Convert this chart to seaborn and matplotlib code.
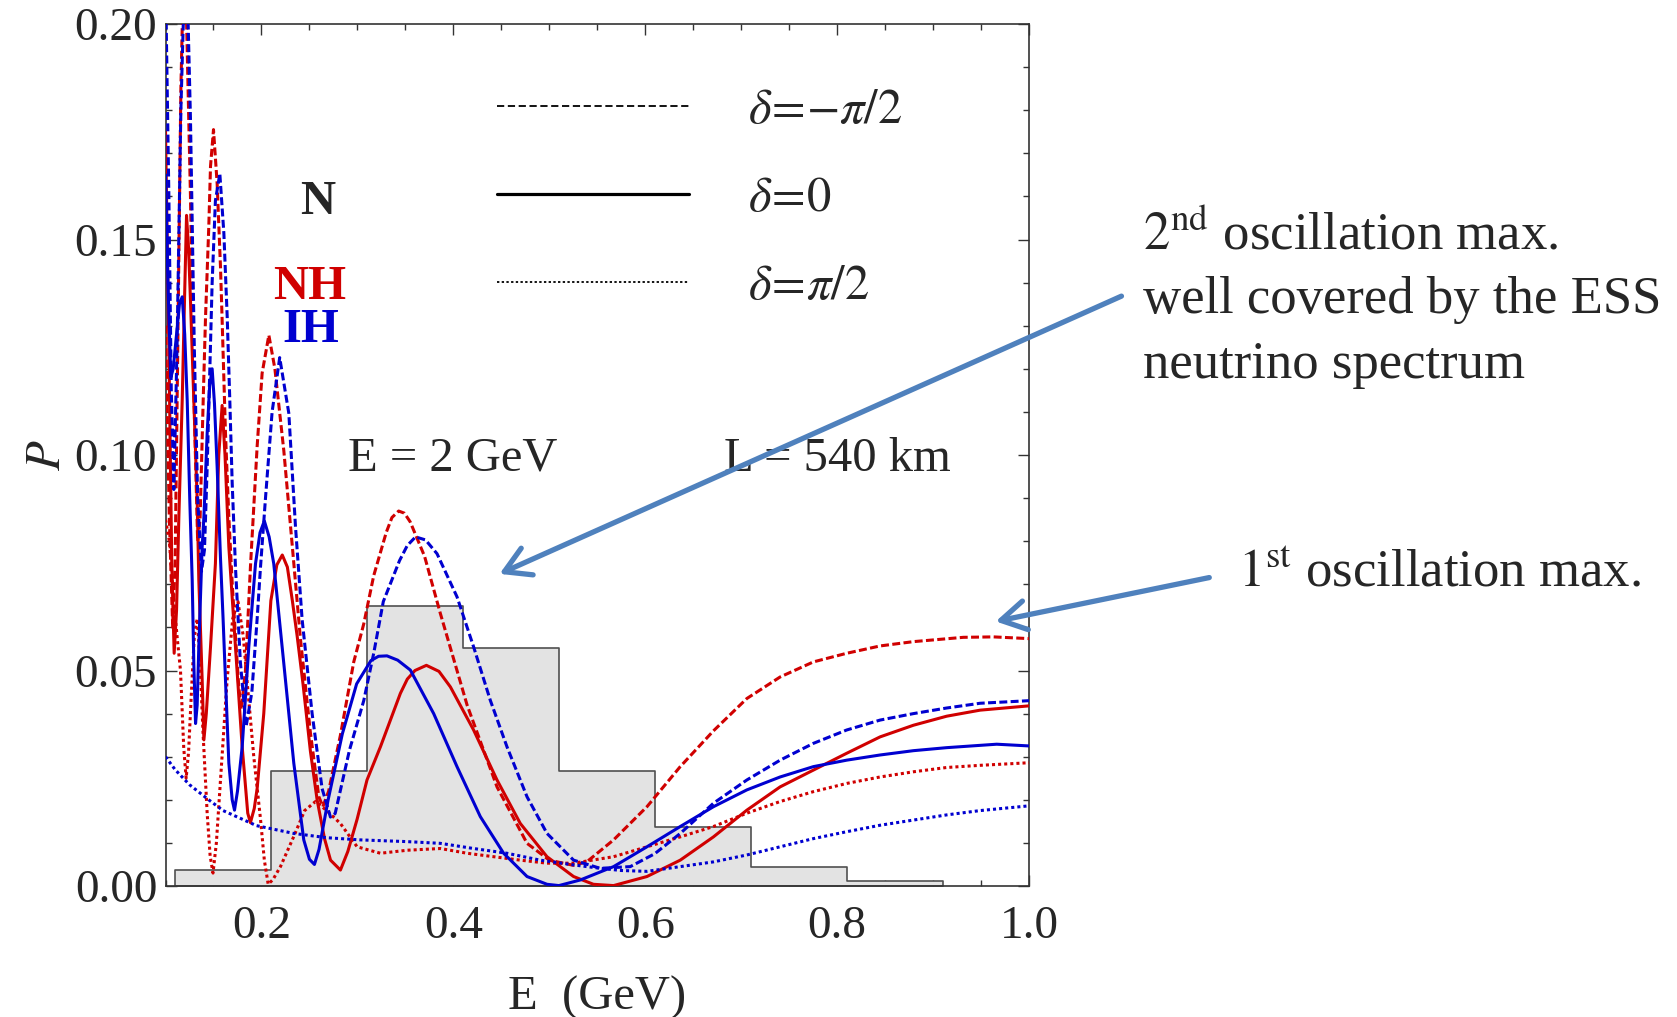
import numpy as np
import pandas as pd
import matplotlib
matplotlib.use("Agg")
import matplotlib.pyplot as plt
from matplotlib.lines import Line2D
from matplotlib.ticker import MultipleLocator, FormatStrFormatter
import seaborn as sns

# ---- values ----
# ESS neutrino spectrum (drawn on the P scale)
hist_edges = [0.11, 0.21, 0.31, 0.41, 0.51, 0.61, 0.71, 0.81, 0.91]
hist_heights = [0.0036, 0.0266, 0.0650, 0.0552, 0.0267, 0.0136, 0.0043, 0.0012]

# NH, delta = 0 (red solid)
nh_0_E = [0.100, 0.1035, 0.1065, 0.109, 0.1115, 0.1139, 0.1174, 0.1198, 0.1219, 0.124,
          0.126, 0.1295, 0.133, 0.1347, 0.1382, 0.140, 0.1425, 0.1469, 0.152, 0.1555,
          0.159, 0.162, 0.166, 0.1729, 0.1799, 0.1857, 0.1885, 0.1925, 0.1955, 0.2024,
          0.2098, 0.216, 0.2217, 0.227, 0.2322, 0.2372, 0.2433, 0.251, 0.2580, 0.2657,
          0.2720, 0.2823, 0.290, 0.2997, 0.310, 0.324, 0.3448, 0.352, 0.360, 0.3719,
          0.385, 0.3969, 0.4211, 0.4455, 0.4698, 0.4976, 0.5253, 0.546, 0.567, 0.6018,
          0.6365, 0.6711, 0.7059, 0.7406, 0.7753, 0.810, 0.8448, 0.8795, 0.9142, 0.949,
          1.0]
nh_0_P = [0.175, 0.125, 0.075, 0.054, 0.064, 0.0856, 0.1127, 0.136, 0.1556, 0.148,
          0.1359, 0.1127, 0.0895, 0.071, 0.0478, 0.0339, 0.040, 0.0555, 0.0748, 0.100,
          0.1115, 0.100, 0.0787, 0.0555, 0.0323, 0.0169, 0.0147, 0.018, 0.0226, 0.040,
          0.0662, 0.0745, 0.0768, 0.0740, 0.0662, 0.0580, 0.0469, 0.0313, 0.0200, 0.0110,
          0.0060, 0.0037, 0.0080, 0.0155, 0.0246, 0.0323, 0.0447, 0.0480, 0.0500, 0.0512,
          0.0498, 0.0462, 0.0362, 0.0246, 0.0145, 0.0068, 0.0022, 0.0004, 0.0001, 0.0022,
          0.0060, 0.0114, 0.0176, 0.0230, 0.0269, 0.0308, 0.0346, 0.0373, 0.0394, 0.0408,
          0.0418]

# IH, delta = 0 (blue solid)
ih_0_E = [0.100, 0.1025, 0.1055, 0.108, 0.1115, 0.1145, 0.1174, 0.120, 0.1226, 0.1253,
          0.1278, 0.1295, 0.1313, 0.133, 0.1347, 0.1382, 0.140, 0.1434, 0.146, 0.1486,
          0.151, 0.1538, 0.1573, 0.1600, 0.1625, 0.166, 0.1695, 0.1719, 0.175, 0.1799,
          0.1868, 0.1938, 0.1985, 0.2030, 0.208, 0.2128, 0.2233, 0.2337, 0.2441, 0.250,
          0.2552, 0.260, 0.2694, 0.2843, 0.2992, 0.3141, 0.3220, 0.3308, 0.3420, 0.3552,
          0.3795, 0.4038, 0.4281, 0.4524, 0.4768, 0.4976, 0.510, 0.5323, 0.567, 0.6018,
          0.6365, 0.6711, 0.7059, 0.7406, 0.7753, 0.810, 0.8448, 0.8795, 0.9142, 0.9663,
          1.0]
ih_0_P = [0.165, 0.140, 0.118, 0.120, 0.128, 0.135, 0.1367, 0.128, 0.1127, 0.0895,
          0.071, 0.0516, 0.0377, 0.042, 0.0555, 0.0787, 0.0856, 0.105, 0.116, 0.120,
          0.112, 0.0973, 0.076, 0.062, 0.0478, 0.0285, 0.020, 0.0176, 0.022, 0.0323,
          0.0555, 0.0748, 0.082, 0.0847, 0.081, 0.0748, 0.0516, 0.0285, 0.0107, 0.0062,
          0.0050, 0.0085, 0.0199, 0.0353, 0.0469, 0.0523, 0.0533, 0.0534, 0.0524, 0.0501,
          0.0400, 0.0277, 0.0161, 0.0076, 0.0022, 0.0004, 0.0001, 0.0014, 0.0045, 0.0091,
          0.0138, 0.0184, 0.0223, 0.0253, 0.0277, 0.0292, 0.0304, 0.0314, 0.0321, 0.0329,
          0.0325]

# NH, delta = -pi/2 (red dashed)
nh_m_E = [0.100, 0.104, 0.1075, 0.110, 0.1125, 0.116, 0.119, 0.122, 0.126, 0.130,
          0.1335, 0.136, 0.1393, 0.1417, 0.1451, 0.1469, 0.150, 0.1538, 0.1573, 0.159,
          0.1625, 0.166, 0.1695, 0.1729, 0.1764, 0.179, 0.1833, 0.1885, 0.1955, 0.2007,
          0.2077, 0.214, 0.2233, 0.232, 0.2406, 0.251, 0.2597, 0.2640, 0.270, 0.2823,
          0.2962, 0.3066, 0.317, 0.330, 0.336, 0.343, 0.349, 0.355, 0.370, 0.3865,
          0.4143, 0.4455, 0.4768, 0.500, 0.525, 0.539, 0.567, 0.6018, 0.6365, 0.6711,
          0.7059, 0.7406, 0.7753, 0.810, 0.8448, 0.8795, 0.9316, 0.963, 1.0]
nh_m_P = [0.130, 0.085, 0.060, 0.075, 0.120, 0.185, 0.215, 0.200, 0.160, 0.110,
          0.080, 0.085, 0.113, 0.132, 0.153, 0.167, 0.1755, 0.163, 0.1436, 0.1314,
          0.105, 0.0856, 0.0702, 0.058, 0.046, 0.041, 0.050, 0.074, 0.102, 0.119,
          0.1278, 0.120, 0.101, 0.0792, 0.0574, 0.0356, 0.0208, 0.0184, 0.022, 0.035,
          0.052, 0.0608, 0.072, 0.082, 0.0855, 0.0870, 0.0865, 0.0845, 0.0765, 0.0632,
          0.042, 0.023, 0.0099, 0.0060, 0.0048, 0.0056, 0.0107, 0.0184, 0.0277, 0.0360,
          0.0435, 0.0485, 0.0520, 0.0540, 0.0557, 0.0567, 0.0577, 0.0578, 0.0574]

# IH, delta = -pi/2 (blue dashed)
ih_m_E = [0.100, 0.1035, 0.106, 0.1087, 0.112, 0.116, 0.1195, 0.1225, 0.126, 0.130,
          0.1335, 0.1375, 0.1406, 0.1434, 0.1462, 0.1486, 0.152, 0.1566, 0.1608, 0.1643,
          0.167, 0.1695, 0.1729, 0.178, 0.184, 0.190, 0.1955, 0.199, 0.2042, 0.2111,
          0.219, 0.2285, 0.2354, 0.2424, 0.2528, 0.2632, 0.2719, 0.2768, 0.2917, 0.3066,
          0.317, 0.327, 0.3439, 0.352, 0.3606, 0.371, 0.383, 0.4038, 0.4211, 0.4385,
          0.4559, 0.4768, 0.4976, 0.5253, 0.5531, 0.5844, 0.610, 0.6365, 0.6711, 0.7059,
          0.7406, 0.7753, 0.810, 0.8448, 0.8795, 0.9142, 0.949, 1.0]
ih_m_P = [0.210, 0.160, 0.115, 0.092, 0.125, 0.180, 0.208, 0.210, 0.178, 0.125,
          0.090, 0.073, 0.078, 0.097, 0.120, 0.140, 0.159, 0.1653, 0.1515, 0.132,
          0.1127, 0.0934, 0.074, 0.052, 0.037, 0.045, 0.062, 0.074, 0.090, 0.110,
          0.1226, 0.1097, 0.0836, 0.0618, 0.040, 0.0226, 0.0160, 0.0168, 0.0315, 0.043,
          0.054, 0.066, 0.0755, 0.0790, 0.0810, 0.0803, 0.0771, 0.0671, 0.0555, 0.0431,
          0.0323, 0.0207, 0.0122, 0.0060, 0.0041, 0.0045, 0.0075, 0.0122, 0.0192, 0.0246,
          0.0292, 0.0331, 0.0362, 0.0385, 0.0400, 0.0413, 0.0424, 0.0430]

# NH, delta = +pi/2 (red dotted)
nh_p_E = [0.100, 0.104, 0.108, 0.112, 0.1156, 0.119, 0.1215, 0.124, 0.127, 0.130,
          0.133, 0.136, 0.139, 0.1434, 0.1465, 0.1495, 0.153, 0.1573, 0.1642, 0.170,
          0.1755, 0.181, 0.186, 0.192, 0.199, 0.203, 0.207, 0.212, 0.2198, 0.2337,
          0.245, 0.2563, 0.268, 0.2823, 0.2997, 0.324, 0.3518, 0.3865, 0.4143, 0.442,
          0.4698, 0.4976, 0.5253, 0.567, 0.6018, 0.6365, 0.6711, 0.7059, 0.7406, 0.7753,
          0.810, 0.8448, 0.8795, 0.9142, 0.949, 1.0]
nh_p_P = [0.085, 0.080, 0.068, 0.058, 0.050, 0.032, 0.025, 0.031, 0.045, 0.058,
          0.062, 0.052, 0.036, 0.0169, 0.007, 0.003, 0.010, 0.0246, 0.0478, 0.062,
          0.066, 0.058, 0.045, 0.030, 0.0155, 0.006, 0.0004, 0.0015, 0.0045, 0.0115,
          0.0175, 0.0196, 0.0175, 0.0145, 0.0091, 0.0076, 0.0083, 0.0087, 0.0076, 0.0068,
          0.0060, 0.0053, 0.0053, 0.0068, 0.0091, 0.0114, 0.0138, 0.0169, 0.0196, 0.0219,
          0.0238, 0.0253, 0.0265, 0.0275, 0.0280, 0.0286]

# IH, delta = +pi/2 (blue dotted)
ih_p_E = [0.100, 0.110, 0.125, 0.145, 0.160, 0.180, 0.1949, 0.2337, 0.2684, 0.3031,
          0.3518, 0.3865, 0.4211, 0.4559, 0.4906, 0.5253, 0.5531, 0.575, 0.6018, 0.6365,
          0.6711, 0.7059, 0.7406, 0.7753, 0.810, 0.8448, 0.8795, 0.9142, 0.949, 1.0]
ih_p_P = [0.0300, 0.0270, 0.0235, 0.0200, 0.0175, 0.0155, 0.0140, 0.0122, 0.0112, 0.0107,
          0.0103, 0.0099, 0.0087, 0.0076, 0.0060, 0.0049, 0.0041, 0.0036, 0.0034, 0.0045,
          0.0056, 0.0072, 0.0091, 0.0110, 0.0126, 0.0141, 0.0153, 0.0165, 0.0175, 0.0186]

x_ticks = [0.2, 0.4, 0.6, 0.8, 1.0]
y_ticks = [0.00, 0.05, 0.10, 0.15, 0.20]

RED = "#d00000"
BLUE = "#0000d0"
ARROW = "#4f81bd"

curves = [
    ("NH", "0", nh_0_E, nh_0_P),
    ("IH", "0", ih_0_E, ih_0_P),
    ("NH", "-pi/2", nh_m_E, nh_m_P),
    ("IH", "-pi/2", ih_m_E, ih_m_P),
    ("NH", "pi/2", nh_p_E, nh_p_P),
    ("IH", "pi/2", ih_p_E, ih_p_P),
]
df = pd.concat(
    [pd.DataFrame({"E": e, "P": p, "hier": h, "delta": d}) for h, d, e, p in curves],
    ignore_index=True,
)

sns.set_style("ticks")
plt.rcParams["font.family"] = ["Liberation Serif", "DejaVu Serif"]
plt.rcParams["mathtext.fontset"] = "stix"
plt.rcParams["xtick.direction"] = "in"
plt.rcParams["ytick.direction"] = "in"

fig = plt.figure(figsize=(16.77, 10.17), dpi=100)
ax = fig.add_axes([0.0987, 0.1288, 0.5149, 0.8476])

# spectrum histogram
centers = [(a + b) / 2 for a, b in zip(hist_edges[:-1], hist_edges[1:])]
sns.histplot(x=centers, weights=hist_heights, bins=hist_edges, element="step",
             fill=True, facecolor="#e3e3e3", edgecolor="#505050", linewidth=1.2,
             alpha=1, ax=ax, zorder=1)

# oscillation probabilities
sns.lineplot(data=df, x="E", y="P", hue="hier", style="delta",
             palette={"NH": RED, "IH": BLUE},
             style_order=["-pi/2", "0", "pi/2"],
             dashes={"-pi/2": (2.6, 1.1), "0": "", "pi/2": (1.0, 1.0)},
             estimator=None, errorbar=None, sort=False, linewidth=2.2,
             legend=False, ax=ax, zorder=3)

ax.set_xlim(0.1, 1.0)
ax.set_ylim(0, 0.2)
ax.xaxis.set_major_locator(plt.FixedLocator(x_ticks))
ax.xaxis.set_minor_locator(MultipleLocator(0.05))
ax.yaxis.set_major_locator(plt.FixedLocator(y_ticks))
ax.yaxis.set_minor_locator(MultipleLocator(0.01))
ax.xaxis.set_major_formatter(FormatStrFormatter("%.1f"))
ax.yaxis.set_major_formatter(FormatStrFormatter("%.2f"))
ax.tick_params(which="both", top=True, right=True, color="#333333", width=1)
ax.tick_params(which="major", length=8)
ax.tick_params(which="minor", length=4.5)
ax.tick_params(axis="x", which="major", labelsize=34, pad=14)
ax.tick_params(axis="y", which="major", labelsize=34, pad=6)
for s in ax.spines.values():
    s.set_color("#333333")
    s.set_linewidth(1.2)

ax.set_xlabel("E  (GeV)", fontsize=35, labelpad=20)
ax.set_ylabel(r"$P$", fontsize=35, labelpad=3)

# legend for the CP phase line styles
handles = [
    Line2D([], [], color="black", lw=1.3, linestyle=(0, (4, 2))),
    Line2D([], [], color="black", lw=2.3),
    Line2D([], [], color="black", lw=1.3, linestyle=(0, (1.3, 1.3))),
]
labels = [r"$\delta\!=\!{-}\pi/2$", r"$\delta\!=\!0$", r"$\delta\!=\!\pi/2$"]
ax.legend(handles, labels, loc="center left", bbox_to_anchor=(0.3843, 0.797),
          frameon=False, fontsize=35, borderpad=0, borderaxespad=0,
          handlelength=3.95, handletextpad=1.2, labelspacing=0.9)

# labels inside the plot
ax.text(0.2583, 0.156, "N", fontsize=35, fontweight="bold", ha="center", va="baseline")
ax.text(0.250, 0.1363, "NH", fontsize=35, fontweight="bold", color=RED,
        ha="center", va="baseline")
ax.text(0.251, 0.1262, "IH", fontsize=35, fontweight="bold", color=BLUE,
        ha="center", va="baseline")
ax.text(0.3995, 0.0963, "E = 2 GeV", fontsize=35, ha="center", va="baseline")
ax.text(0.800, 0.0963, "L = 540 km", fontsize=35, ha="center", va="baseline")

# annotations to the right
W, H = 1677, 1017
fig.text(1143 / W, 1 - 250 / H, r"$2^{\mathrm{nd}}$ oscillation max.", fontsize=38,
         ha="left", va="baseline")
fig.text(1143 / W, 1 - 313 / H, "well covered by the ESS", fontsize=38,
         ha="left", va="baseline")
fig.text(1143 / W, 1 - 378 / H, "neutrino spectrum", fontsize=38,
         ha="left", va="baseline")
fig.text(1238 / W, 1 - 587 / H, r"$1^{\mathrm{st}}$ oscillation max.", fontsize=38,
         ha="left", va="baseline")

arrow_kw = dict(arrowstyle="->,head_length=0.6,head_width=0.35", lw=3.8,
                color=ARROW, mutation_scale=30)
ax.annotate("", xy=(497, H - 575), xytext=(1124, H - 295), xycoords="figure pixels",
            textcoords="figure pixels", arrowprops=arrow_kw, annotation_clip=False)
ax.annotate("", xy=(993, H - 622), xytext=(1212, H - 577), xycoords="figure pixels",
            textcoords="figure pixels", arrowprops=arrow_kw, annotation_clip=False)

fig.savefig("out.png", dpi=100)
